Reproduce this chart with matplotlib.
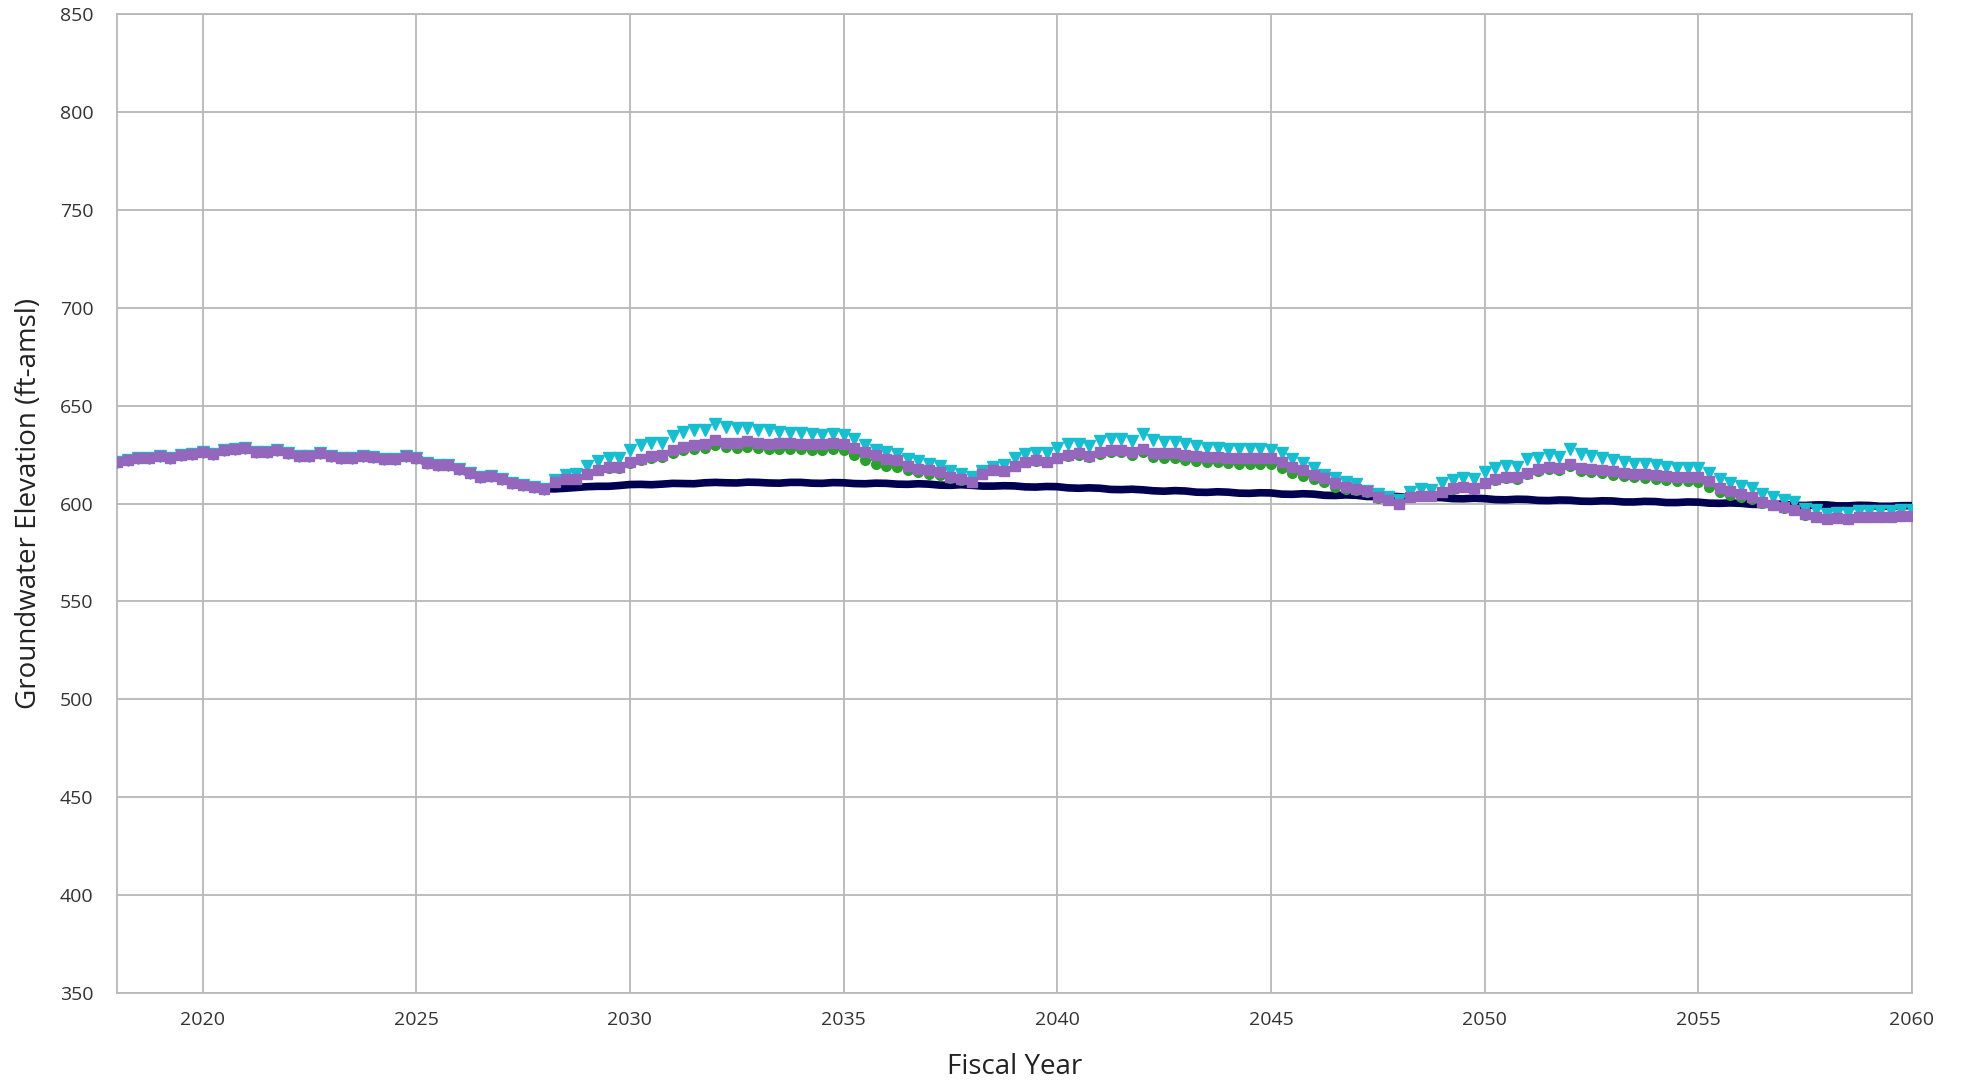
import numpy as np
import matplotlib.pyplot as plt

plt.rcParams["font.family"] = ["Open Sans", "DejaVu Sans"]

# quarterly time steps, fiscal years 2018 - 2060
quarters = np.arange(2018.0, 2060.01, 0.25)

# all scenarios share the same history up to 2028
common = [
    621.3, 622.2, 623.1, 623.4,
    624.3, 623.0, 624.6, 625.2,
    626.2, 625.4, 627.1, 627.8,
    628.6, 626.2, 626.2, 627.1,
    625.9, 624.5, 624.5, 625.7,
    624.5, 623.1, 623.1, 624.5,
    623.7, 622.8, 622.6, 624.2,
    623.3, 620.9, 619.6, 619.6,
    617.5, 615.5, 613.8, 614.0,
    612.4, 610.5, 609.3, 608.5,
    607.5,
]

baseline_future = [
    607.5, 607.8, 608.2,
    608.6, 608.8, 608.8, 609.2,
    609.7, 609.8, 609.6, 609.9,
    610.3, 610.2, 610.1, 610.6,
    610.8, 610.6, 610.5, 610.9,
    610.8, 610.5, 610.4, 610.8,
    610.8, 610.4, 610.3, 610.7,
    610.6, 610.2, 610.1, 610.4,
    610.3, 609.9, 609.8, 610.1,
    609.9, 609.4, 609.3, 609.6,
    609.3, 608.9, 608.9, 609.1,
    609.0, 608.5, 608.4, 608.7,
    608.6, 608.0, 607.8, 608.0,
    607.8, 607.2, 607.1, 607.3,
    607.0, 606.5, 606.3, 606.6,
    606.4, 605.8, 605.7, 606.0,
    605.8, 605.3, 605.2, 605.5,
    605.4, 604.8, 604.7, 605.0,
    604.8, 604.2, 604.1, 604.4,
    604.2, 603.6, 603.5, 603.8,
    603.5, 603.0, 602.9, 603.2,
    603.0, 602.5, 602.4, 602.7,
    602.5, 602.0, 601.9, 602.2,
    602.1, 601.6, 601.5, 601.8,
    601.7, 601.2, 601.1, 601.4,
    601.3, 600.8, 600.8, 601.1,
    601.0, 600.5, 600.5, 600.8,
    600.7, 600.2, 600.1, 600.3,
    600.1, 599.6, 599.5, 599.8,
    599.6, 599.1, 599.0, 599.3,
    599.3, 598.8, 598.8, 599.1,
    599.0, 598.6, 598.6, 598.9,
    598.9,
]

green_future = [
    611.0, 612.4, 612.7,
    614.9, 617.0, 618.3, 618.3,
    620.8, 622.3, 623.4, 623.6,
    625.8, 627.3, 628.0, 628.3,
    629.7, 628.8, 628.5, 628.8,
    628.3, 627.8, 628.0, 628.0,
    627.6, 627.5, 627.5, 627.8,
    627.5, 624.6, 622.0, 620.3,
    619.0, 618.6, 617.0, 616.0,
    615.3, 614.5, 612.8, 612.2,
    610.8, 615.3, 617.0, 616.5,
    619.1, 621.0, 621.8, 621.0,
    623.0, 624.3, 625.0, 623.7,
    625.3, 626.4, 626.2, 625.0,
    626.5, 623.8, 623.3, 623.1,
    622.2, 621.6, 621.2, 621.0,
    620.6, 620.4, 620.2, 620.1,
    620.0, 617.9, 615.7, 614.0,
    612.3, 611.0, 608.5, 607.2,
    606.8, 606.0, 603.0, 601.6,
    600.0, 603.3, 603.6, 603.6,
    605.9, 607.5, 608.2, 607.7,
    610.3, 611.9, 613.0, 612.6,
    615.0, 616.7, 617.8, 617.0,
    619.4, 616.8, 616.0, 615.5,
    614.6, 613.9, 613.3, 613.1,
    612.6, 612.0, 611.6, 611.3,
    611.0, 608.5, 605.8, 604.5,
    603.1, 602.3, 600.5, 599.0,
    597.9, 596.8, 594.3, 593.1,
    591.9, 592.6, 592.2, 593.1,
    593.1, 593.1, 593.1, 593.4,
    593.4,
]

cyan_future = [
    612.2, 614.4, 614.9,
    619.2, 621.5, 623.4, 623.4,
    627.5, 629.7, 631.0, 630.8,
    634.7, 636.4, 637.6, 637.3,
    640.7, 639.0, 638.5, 638.5,
    637.6, 637.3, 636.4, 636.1,
    635.9, 635.6, 635.1, 635.6,
    635.1, 633.1, 630.0, 627.1,
    626.3, 625.4, 622.9, 621.5,
    620.3, 619.2, 616.4, 615.3,
    613.6, 616.5, 618.7, 619.6,
    623.5, 625.2, 625.9, 625.6,
    628.6, 630.2, 630.3, 629.3,
    632.0, 633.2, 633.2, 632.0,
    635.3, 632.7, 631.5, 631.2,
    630.2, 629.3, 628.6, 628.6,
    628.1, 627.8, 627.6, 627.6,
    627.3, 625.6, 622.5, 620.8,
    617.9, 614.5, 612.8, 611.1,
    610.2, 606.3, 605.1, 603.4,
    601.7, 606.0, 607.2, 606.8,
    610.6, 611.9, 613.1, 612.3,
    616.2, 617.9, 619.1, 618.4,
    622.5, 623.5, 625.0, 623.9,
    627.6, 625.2, 624.2, 623.5,
    622.1, 621.3, 620.4, 620.1,
    619.6, 618.7, 618.2, 618.2,
    617.9, 615.7, 612.3, 610.6,
    608.9, 607.7, 604.8, 603.1,
    601.7, 600.9, 597.4, 596.6,
    594.9, 595.4, 595.4, 596.3,
    596.3, 596.3, 596.3, 596.6,
    596.6,
]

purple_future = [
    611.0, 612.4, 612.7,
    614.9, 617.0, 618.6, 618.6,
    621.2, 622.9, 624.2, 624.6,
    627.1, 628.8, 629.7, 630.2,
    632.2, 631.0, 631.0, 631.7,
    631.0, 630.5, 631.0, 631.0,
    630.5, 630.5, 630.5, 631.0,
    630.5, 628.5, 626.3, 624.6,
    622.9, 622.4, 619.0, 617.8,
    617.0, 616.1, 613.6, 612.7,
    611.0, 615.3, 617.0, 616.5,
    619.1, 621.3, 622.1, 621.3,
    623.3, 624.7, 625.6, 624.2,
    626.1, 627.3, 627.3, 626.1,
    628.1, 625.9, 625.6, 625.6,
    624.7, 624.2, 623.9, 623.9,
    623.5, 623.5, 623.5, 623.5,
    623.5, 621.3, 618.7, 617.0,
    614.5, 612.8, 610.6, 608.5,
    607.3, 606.3, 603.1, 601.7,
    600.0, 603.4, 603.7, 603.7,
    606.0, 607.7, 608.5, 608.0,
    610.7, 612.4, 613.6, 613.3,
    615.8, 617.5, 618.7, 617.9,
    620.4, 617.9, 617.4, 617.0,
    616.5, 615.8, 615.3, 615.3,
    614.8, 614.0, 613.6, 613.6,
    613.6, 611.4, 608.0, 606.5,
    604.8, 603.1, 600.9, 599.1,
    598.0, 596.9, 594.4, 593.2,
    592.0, 592.7, 592.3, 593.2,
    593.2, 593.2, 593.2, 593.5,
    593.5,
]

baseline = common + baseline_future
green = common + green_future
cyan = common + cyan_future
purple = common + purple_future

x_ticks = [2020, 2025, 2030, 2035, 2040, 2045, 2050, 2055, 2060]
y_ticks = [350, 400, 450, 500, 550, 600, 650, 700, 750, 800, 850]

fig = plt.figure(figsize=(19.61, 10.88), dpi=100)
ax = fig.add_axes([0.0597, 0.0873, 0.9153, 0.8998])

ax.plot(quarters, baseline, color="#000050", linewidth=5.5, solid_capstyle="butt", zorder=3)
ax.plot(quarters, green, linestyle="none", marker="o", markersize=7, color="#2ca02c", zorder=4)
ax.plot(quarters, cyan, linestyle="none", marker="v", markersize=9, color="#17becf", zorder=5)
ax.plot(quarters, purple, linestyle="none", marker="s", markersize=7.5, color="#9467bd", zorder=6)

ax.set_xlim(2018, 2060)
ax.set_ylim(350, 850)
ax.set_xticks(x_ticks)
ax.set_yticks(y_ticks)
ax.grid(True, color="#b8b8b8", linewidth=1.3)
ax.set_axisbelow(True)
for s in ax.spines.values():
    s.set_color("#b8b8b8")
    s.set_linewidth(1.3)
ax.tick_params(length=0, labelsize=14, labelcolor="#333333")
ax.tick_params(axis="x", pad=13)
ax.tick_params(axis="y", pad=17)

ax.set_xlabel("Fiscal Year", fontsize=20, color="#222222", labelpad=17)
ax.set_ylabel("Groundwater Elevation (ft-amsl)", fontsize=20, color="#222222", labelpad=12)

fig.savefig("out.png", dpi=100)
